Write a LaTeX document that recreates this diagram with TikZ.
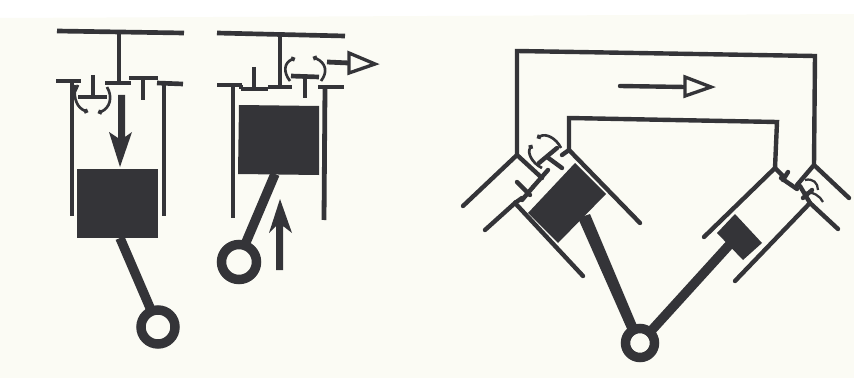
\documentclass[tikz,border=0pt]{standalone}
\usepackage{tikz}
\usetikzlibrary{arrows.meta}

\definecolor{paper}{RGB}{251,251,244}
\definecolor{ink}{RGB}{52,52,56}
\tikzset{
  pipe/.style={draw=ink,line width=3.5pt},
  wall/.style={draw=ink,line width=3.6pt},
  vee/.style={draw=ink,line width=3.3pt,line cap=round},
  piston/.style={fill=ink,draw=none},
  rod/.style={draw=ink,line width=7.1pt},
  pin/.style={draw=ink,line width=7.1pt,fill=paper},
  flow/.style={draw=ink,line width=2pt,-{Circle[open,length=3.5pt,fill=paper]}},
  hollow/.style={draw=ink,line width=2.5pt,fill=paper,line join=miter},
  solid head/.style={fill=ink,draw=none}
}

\begin{document}
\begin{tikzpicture}[x=0.75pt,y=0.75pt,yscale=-1,xscale=1]
\useasboundingbox (0,0) rectangle (854,378);
\fill[paper] (0,18) -- (854,14) -- (854,378) -- (0,378) -- cycle;

%Engine on the left, induction stroke
\draw[pipe] (57,31) -- (184,33);
\draw[pipe] (119,32) -- (119,82);
\draw[pipe] (56,81) -- (81,81);
\draw[pipe] (105,83) -- (131,83);
\draw[pipe] (157,83) -- (183,84);
\draw[pipe] (78,97) -- (107,97);
\draw[pipe] (93,75) -- (93,97);
\draw[pipe] (129,78) -- (158,78);
\draw[pipe] (143,78) -- (143,100);
\draw[wall] (72,81) -- (72,216);
\draw[wall] (164,83) -- (164,216);
\fill[piston] (77,169) rectangle (158,238);
\draw[rod] (120,238) -- (151,310);
\draw[pin] (158,327) circle (17);
\fill[solid head] (118,95) -- (125,95) -- (125,137) -- (132,132) -- (120,167) -- (109,132) -- (118,138) -- cycle;
\draw[flow] (75,85) .. controls (73,100) and (78,108) .. (88,112);
\draw[draw=ink,line width=2pt] (78,85) -- (73,96);
\draw[flow] (107,87) .. controls (113,97) and (110,108) .. (98,113);

%Engine in the middle, exhaust stroke
\draw[pipe] (217,33) -- (345,36);
\draw[pipe] (280,35) -- (280,87);
\draw[pipe] (217,85) -- (242,85);
\draw[pipe] (241,89) -- (268,89);
\draw[pipe] (241,85) -- (241,89);
\draw[pipe] (254,67) -- (254,89);
\draw[pipe] (268,87) -- (292,87);
\draw[pipe] (291,76) -- (319,77);
\draw[pipe] (305,76) -- (305,98);
\draw[pipe] (318,87) -- (344,87);
\draw[wall] (233,85) -- (233,218);
\draw[wall] (325,87) -- (324,220);
\fill[piston] (239,105) -- (319,106) -- (319,175) -- (238,174) -- cycle;
\draw[rod] (275,174) -- (244,247);
\draw[pin] (239,262) circle (17.5);
\fill[solid head] (276,270) -- (276,226) -- (269,233) -- (280,199) -- (292,233) -- (283,226) -- (283,270) -- cycle;
\draw[flow] (290,81) .. controls (283,72) and (284,63) .. (295,58);
\draw[flow] (321,81) .. controls (328,72) and (326,63) .. (313,57);
\draw[wall] (327,62) -- (349,63);
\draw[hollow] (349,53) -- (375,64) -- (349,73) -- cycle;

%Engine on the right, two cylinders in a V
\draw[vee] (517,155) -- (517,51) -- (815,56) -- (814,165);
\draw[vee] (569,150) -- (569,118) -- (777,122) -- (775,168);
\draw[vee] (620,86) -- (685,87);
\draw[hollow] (685,77) -- (711,87) -- (685,96) -- cycle;
% large cylinder
\draw[vee] (463,206) -- (517,155) -- (542,178);
\draw[vee] (533,187) -- (548,170);
\draw[vee] (522,200) -- (533,187);
\draw[vee] (517,182) -- (530,195);
\draw[vee] (515,203) -- (522,198);
\draw[vee] (485,230) -- (515,203) -- (583,276);
\draw[vee] (562,155) -- (569,150) -- (640,223);
\draw[vee] (539,163) -- (557,148);
\draw[vee] (547,157) -- (562,168);
\fill[piston] (575,163) -- (606,194) -- (558,243) -- (528,213) -- cycle;
\fill[piston] (578,218) -- (590,214) -- (638,328) -- (628,331) -- cycle;
\draw[flow] (561,148) .. controls (556,138) and (546,133) .. (537,138);
\draw[flow] (542,168) .. controls (532,163) and (527,153) .. (532,145);
% small cylinder
\draw[vee] (704,237) -- (775,168) -- (783,176);
\draw[vee] (781,178) -- (797,189);
\draw[vee] (788,172) -- (783,180);
\draw[vee] (797,185) -- (814,165) -- (849,198);
\draw[vee] (800,186) -- (810,203);
\draw[vee] (803,198) -- (812,190);
\draw[vee] (735,281) -- (810,203) -- (838,229);
\fill[piston] (735,214) -- (762,243) -- (743,260) -- (717,233) -- cycle;
\draw[rod] (731,243) -- (651,331);
\draw[draw=ink,line width=1.7pt] (805,180) .. controls (813,178) and (818,183) .. (818,190);
\draw[draw=ink,line width=1.7pt] (804,193) .. controls (813,191) and (820,196) .. (823,202);
\draw[pin] (640,343) circle (14.5);

\end{tikzpicture}
\end{document}
